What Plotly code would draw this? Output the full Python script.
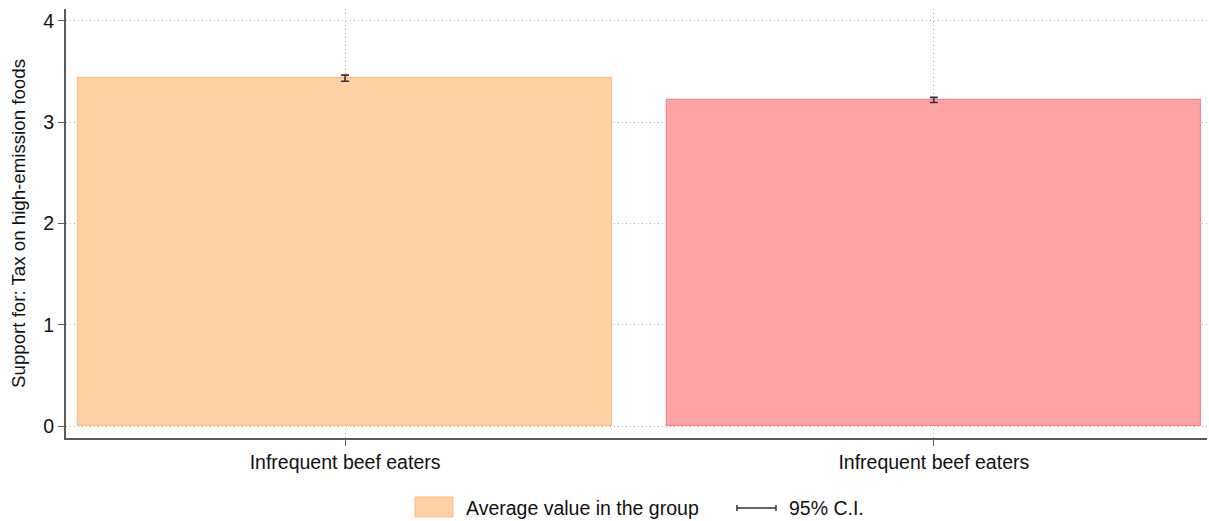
import plotly.graph_objects as go

# Group means with 95% confidence intervals
groups = ["Infrequent beef eaters", "Infrequent beef eaters"]
positions = [0, 1]
means = [3.435, 3.22]
ci_low = [3.405, 3.195]
ci_high = [3.465, 3.245]
y_ticks = [0, 1, 2, 3, 4]

fill_colors = ["#FDD1A5", "#FFA3A6"]
edge_colors = ["#FDBD85", "#F2868B"]

fig = go.Figure()

fig.add_trace(go.Bar(
    x=positions, y=means, width=0.907,
    marker=dict(color=fill_colors, line=dict(color=edge_colors, width=1.2)),
    showlegend=False, hoverinfo="skip",
))

fig.add_trace(go.Scatter(
    x=positions, y=means, mode="markers",
    marker=dict(size=0.1, color="rgba(0,0,0,0)"),
    error_y=dict(
        type="data", symmetric=False,
        array=[h - m for h, m in zip(ci_high, means)],
        arrayminus=[m - l for m, l in zip(means, ci_low)],
        color="#333333", thickness=1.6, width=4,
    ),
    showlegend=False, hoverinfo="skip",
))

axis_color = "#5a5a5a"
grid_color = "#b0b0b0"
font_size = 19.5

fig.update_layout(
    width=1209, height=521,
    margin=dict(l=66, r=2, t=9, b=83),
    plot_bgcolor="white", paper_bgcolor="white",
    font=dict(family="Liberation Sans, Arial, sans-serif", size=font_size, color="#111111"),
    xaxis=dict(
        range=[-0.474, 1.464],
        tickmode="array", tickvals=positions, ticktext=groups,
        ticks="outside", ticklen=6, tickcolor=axis_color, tickwidth=1.2,
        showline=True, linecolor=axis_color, linewidth=2,
        showgrid=True, gridcolor=grid_color, griddash="1px,3px", gridwidth=1,
        zeroline=False,
        tickfont=dict(size=font_size),
    ),
    yaxis=dict(
        range=[-0.118, 4.118],
        tickmode="array", tickvals=y_ticks,
        ticks="outside", ticklen=6, tickcolor=axis_color, tickwidth=1.2,
        showline=True, linecolor=axis_color, linewidth=2,
        showgrid=True, gridcolor=grid_color, griddash="1px,3px", gridwidth=1,
        zeroline=False,
        title=dict(text="Support for: Tax on high-emission foods", font=dict(size=18.7), standoff=13),
        tickfont=dict(size=font_size),
    ),
    bargap=0,
)

# Legend drawn below the plot area
shapes = [
    dict(type="rect", xref="paper", yref="paper",
         x0=(415 - 66) / 1141, x1=(453 - 66) / 1141,
         y0=-(517 - 438) / 429, y1=-(497 - 438) / 429,
         fillcolor=fill_colors[0], line=dict(color=edge_colors[0], width=1)),
    dict(type="line", xref="paper", yref="paper",
         x0=(737 - 66) / 1141, x1=(776 - 66) / 1141,
         y0=-(508 - 438) / 429, y1=-(508 - 438) / 429,
         line=dict(color="#333333", width=1.5)),
    dict(type="line", xref="paper", yref="paper",
         x0=(737 - 66) / 1141, x1=(737 - 66) / 1141,
         y0=-(505 - 438) / 429, y1=-(511 - 438) / 429,
         line=dict(color="#333333", width=1.5)),
    dict(type="line", xref="paper", yref="paper",
         x0=(776 - 66) / 1141, x1=(776 - 66) / 1141,
         y0=-(505 - 438) / 429, y1=-(511 - 438) / 429,
         line=dict(color="#333333", width=1.5)),
]
annotations = [
    dict(text="Average value in the group", xref="paper", yref="paper",
         x=(464 - 66) / 1141, y=-(508 - 438) / 429, xanchor="left", yanchor="middle",
         showarrow=False, font=dict(size=font_size)),
    dict(text="95% C.I.", xref="paper", yref="paper",
         x=(787 - 66) / 1141, y=-(508 - 438) / 429, xanchor="left", yanchor="middle",
         showarrow=False, font=dict(size=font_size)),
]
fig.update_layout(shapes=shapes, annotations=annotations)

fig.write_html("out.html")
